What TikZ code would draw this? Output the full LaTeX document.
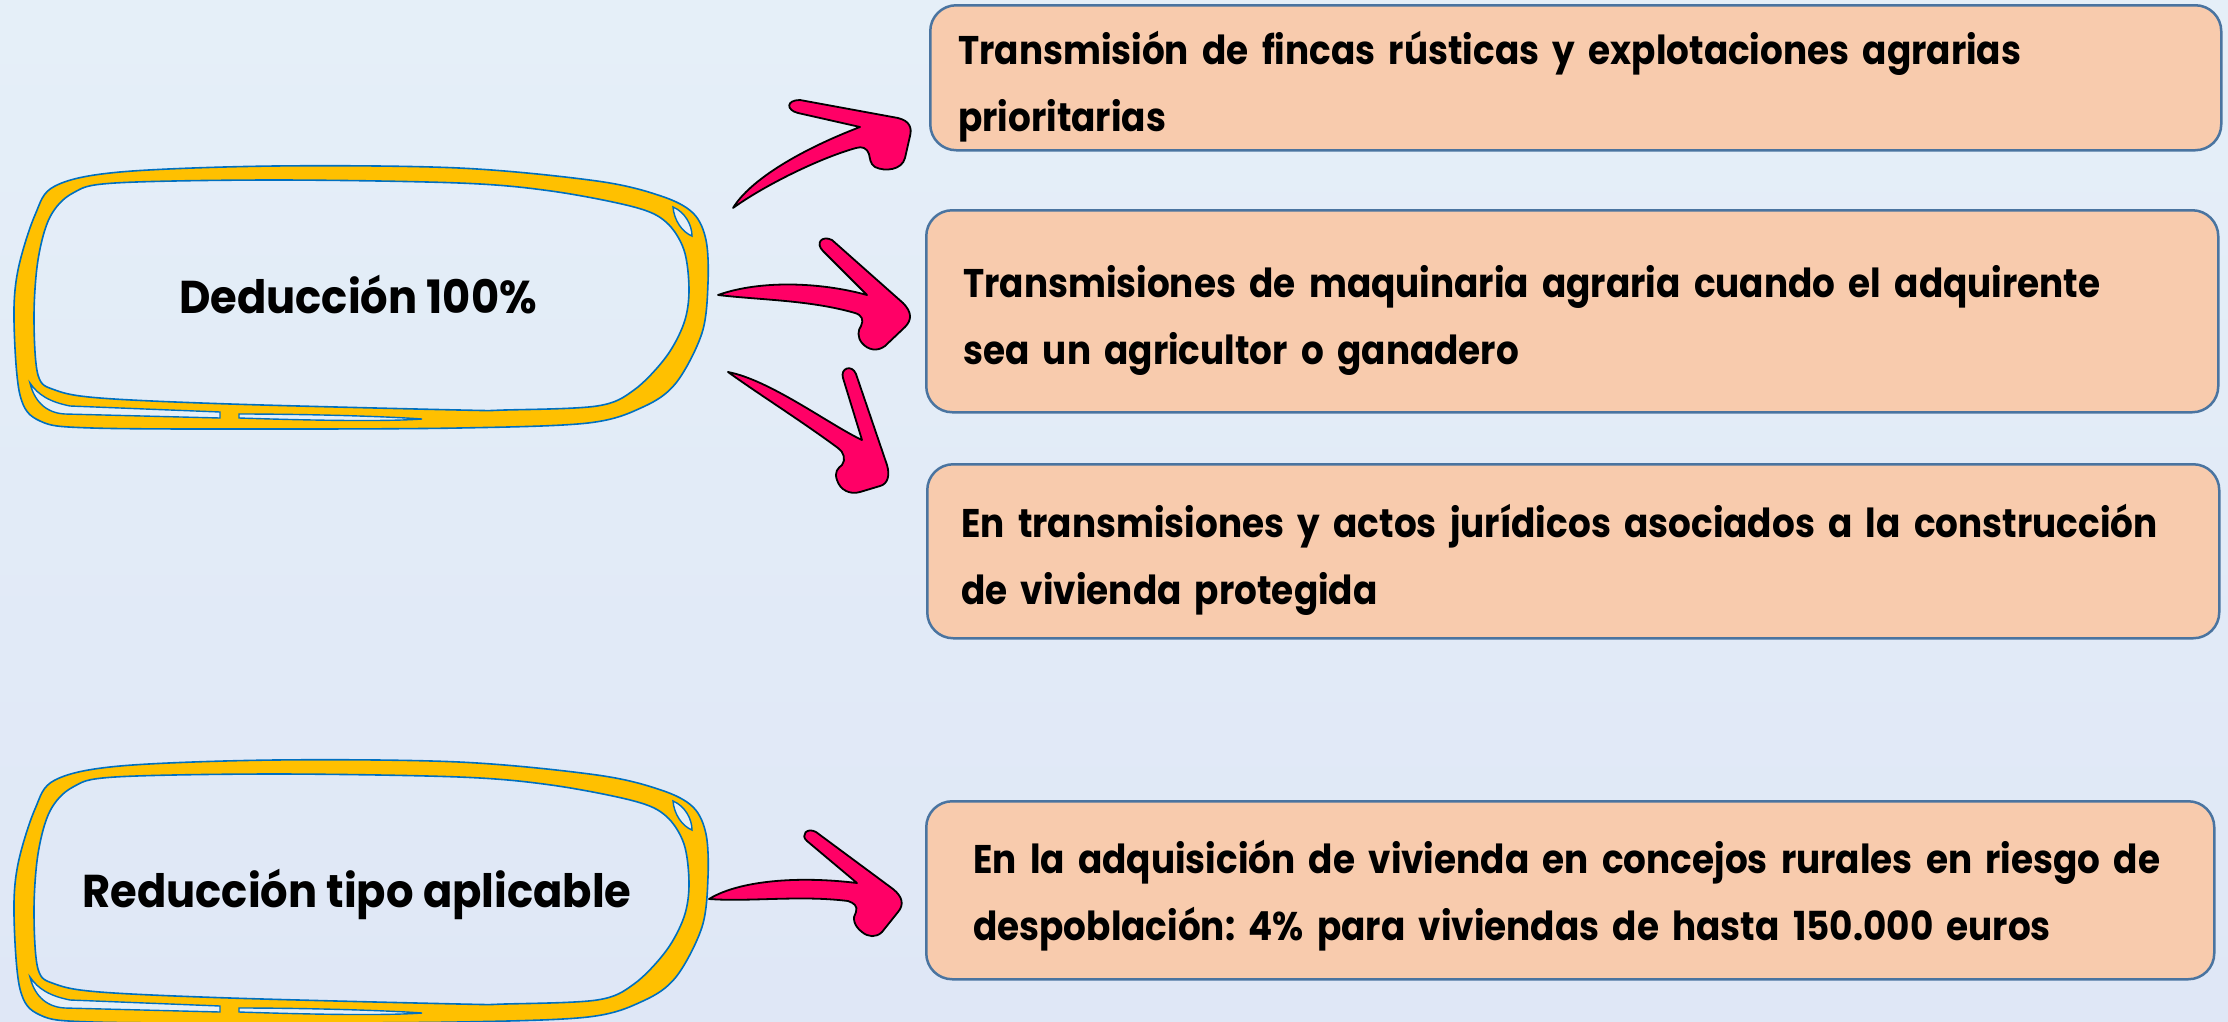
\documentclass[tikz,border=0pt]{standalone}
\usepackage{fontspec}
\newfontfamily\popfont[FakeStretch=0.895]{Poppins}
\newfontfamily\popbigfont[FakeStretch=0.94]{Poppins}
\frenchspacing
\definecolor{bgtop}{HTML}{E5EFF8}
\definecolor{bgbot}{HTML}{DFE7F6}
\definecolor{boxfill}{HTML}{F8CBAD}
\definecolor{boxline}{HTML}{4A74A0}
\definecolor{scrib}{HTML}{FFC000}
\definecolor{scribline}{HTML}{0070C0}
\definecolor{arrowfill}{HTML}{FF0066}
\newcommand\firstln[1][54pt]{\rule{0pt}{#1}}
\newcommand\lastln{\rule[-14pt]{0pt}{14pt}}
\tikzset{
  infobox/.style={draw=boxline, line width=2.5pt, fill=boxfill, rounded corners=26pt,
    align=left, anchor=north west, inner ysep=0pt,
    font=\popfont\bfseries\fontsize{40}{67}\selectfont\frenchspacing},
  scribband/.style={fill=scrib, draw=scribline, line width=1.6pt, even odd rule},
  scribgap/.style={fill=bgtop, draw=scribline, line width=1.4pt},
  doodlearrow/.style={fill=arrowfill, draw=black, line width=1.8pt, line join=round},
  bigtext/.style={font=\popbigfont\bfseries\fontsize{46}{50}\selectfont, anchor=base, inner sep=0pt}
}
\newcommand\drawscribble{%
  \path[scribband]
    plot[smooth cycle, tension=0.55] coordinates {(55,186) (120,172) (275,166) (459,168) (597,181) (661,196) (693,213) (706,240) (708,283) (702,333) (676,383) (643,407) (588,423) (459,428) (275,429) (92,428) (40,421) (20,395) (14,320) (18,270) (35,215)}
    plot[smooth cycle, tension=0.55] coordinates {(73,193) (115,183) (275,180) (459,183) (551,191) (634,207) (666,222) (684,250) (689,290) (684,323) (666,357) (634,390) (597,406) (505,410) (459,410) (230,404) (100,398) (55,390) (38,375) (34,317) (38,260) (50,217)};
  \path[scribgap] (30,383) .. controls (34,400) and (45,413) .. (65,414) -- (220,418) -- (220,412) -- (70,406) .. controls (50,402) and (38,395) .. (30,383) -- cycle;
  \path[scribgap] (239,414) .. controls (300,414) and (380,416) .. (422,419) .. controls (380,422) and (300,420) .. (239,418) -- cycle;
  \path[scribgap] (673,207) .. controls (685,212) and (692,225) .. (692,236) .. controls (682,232) and (674,220) .. (673,207) -- cycle;
}
\begin{document}
\begin{tikzpicture}[x=1pt, y=-1pt]
\useasboundingbox (0,0) rectangle (2228,1021);
\shade[top color=bgtop, bottom color=bgbot] (0,0) rectangle (2228,1021);

% scribbled frames
\drawscribble
\begin{scope}[yshift=-594pt]
\drawscribble
\end{scope}
\node[bigtext] (d1) at (358,313) {Deducción 100\%};
\node[bigtext] (d2) at (357,907) {Reducción tipo aplicable};

% boxes
\node[infobox, minimum width=1291pt, minimum height=145pt, inner xsep=28pt, text width=1235pt] (b1) at (929,4)
  {\firstln Transmisión de fincas rústicas y explotaciones agrarias\\prioritarias\lastln};
\node[infobox, minimum width=1292pt, minimum height=202pt, inner xsep=37pt, text width=1218pt] (b2) at (925,209)
  {\firstln Transmisiones de maquinaria agraria cuando el adquirente\\sea un agricultor o ganadero\lastln};
\node[infobox, minimum width=1292pt, minimum height=174pt, inner xsep=34pt, text width=1224pt] (b3) at (926,463)
  {\firstln En transmisiones y actos jurídicos asociados a la construcción\\de vivienda protegida\lastln};
\node[infobox, minimum width=1288pt, minimum height=178pt, inner xsep=47pt, text width=1194pt] (b4) at (925,800)
  {\firstln[48pt]En la adquisición de vivienda en concejos rurales en riesgo de\\despoblación: 4\% para viviendas de hasta 150.000 euros\lastln};

% hand-drawn arrows
\path[doodlearrow] (733,208) .. controls (750,180) and (800,150) .. (860,127)
  -- (798,113) .. controls (786,110) and (786,100) .. (800,100)
  -- (898,118) .. controls (910,121) and (912,128) .. (910,136)
  -- (905,158) .. controls (902,170) and (885,172) .. (875,167)
  .. controls (870,164) and (870,158) .. (869,154)
  .. controls (867,148) and (862,146) .. (856,148)
  .. controls (820,158) and (765,185) .. (733,208) -- cycle;
\path[doodlearrow] (718,295) .. controls (760,280) and (820,282) .. (867,295)
  -- (823,251) .. controls (815,243) and (822,235) .. (832,240)
  -- (903,303) .. controls (912,312) and (912,320) .. (905,327)
  -- (885,346) .. controls (877,352) and (868,350) .. (862,343)
  .. controls (857,337) and (858,330) .. (861,326)
  .. controls (864,320) and (862,315) .. (855,313)
  .. controls (810,300) and (760,300) .. (718,295) -- cycle;
\path[doodlearrow] (728,372) .. controls (770,380) and (830,425) .. (862,440)
  -- (843,378) .. controls (840,368) and (852,364) .. (856,374)
  -- (887,465) .. controls (890,475) and (888,484) .. (880,486)
  -- (860,492) .. controls (850,495) and (840,490) .. (837,480)
  .. controls (834,472) and (838,468) .. (842,465)
  .. controls (846,460) and (844,452) .. (838,448)
  .. controls (800,420) and (760,395) .. (728,372) -- cycle;
\path[doodlearrow] (709,899) .. controls (740,880) and (800,876) .. (857,883)
  -- (807,841) .. controls (800,835) and (807,827) .. (816,832)
  -- (893,889) .. controls (903,897) and (904,905) .. (898,912)
  -- (882,932) .. controls (876,938) and (868,937) .. (862,932)
  .. controls (854,926) and (852,918) .. (856,912)
  .. controls (858,906) and (854,903) .. (848,901)
  .. controls (800,895) and (750,902) .. (709,899) -- cycle;
\end{tikzpicture}
\end{document}
